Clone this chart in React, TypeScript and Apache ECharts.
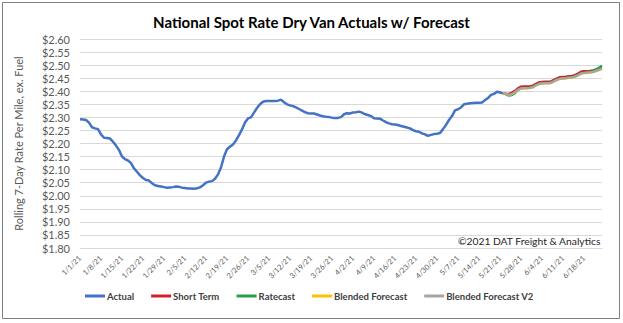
import React, { useEffect, useRef } from "react";
import * as echarts from "echarts";

const TITLE = "National Spot Rate Dry Van Actuals w/ Forecast";
const Y_NAME = "Rolling 7-Day Rate Per Mile, ex. Fuel";
const COPYRIGHT = "©2021 DAT Freight & Analytics";
const SERIES_NAMES = ["Actual", "Short Term", "Ratecast", "Blended Forecast", "Blended Forecast V2"];
const COLORS = ["#4472C4", "#D0202A", "#22A050", "#FFC000", "#A5A5A5"];

const START = new Date(2021, 0, 1);
const DAY_COUNT = 175; // 1/1/21 .. 6/24/21
const FORECAST_START = 141;

const actual = [
  2.293, 2.292, 2.29, 2.28, 2.262, 2.258, 2.255, 2.235, 2.222, 2.221,
  2.219, 2.207, 2.192, 2.175, 2.15, 2.14, 2.135, 2.125, 2.105, 2.092,
  2.078, 2.068, 2.06, 2.058, 2.048, 2.04, 2.037, 2.035, 2.033, 2.031,
  2.032, 2.033, 2.035, 2.034, 2.031, 2.03, 2.028, 2.028, 2.027,
  2.029, 2.032, 2.04, 2.05, 2.054, 2.056, 2.065, 2.082, 2.108, 2.15,
  2.178, 2.188, 2.196, 2.212, 2.232, 2.254, 2.28, 2.296, 2.3, 2.318,
  2.336, 2.35, 2.36, 2.363, 2.363, 2.363, 2.363, 2.364, 2.368,
  2.358, 2.35, 2.346, 2.343, 2.338, 2.332, 2.326, 2.32, 2.316, 2.315,
  2.315, 2.311, 2.307, 2.304, 2.302, 2.301, 2.299, 2.298, 2.298, 2.301,
  2.312, 2.316, 2.315, 2.319, 2.32, 2.322, 2.318, 2.312, 2.309, 2.305,
  2.297, 2.296, 2.295, 2.288, 2.282, 2.277, 2.274, 2.273, 2.271,
  2.267, 2.264, 2.261, 2.258, 2.251, 2.247, 2.245, 2.239, 2.235, 2.229,
  2.233, 2.236, 2.237, 2.24, 2.255, 2.271, 2.29, 2.305, 2.327, 2.331,
  2.338, 2.35, 2.352, 2.354, 2.355, 2.356, 2.356, 2.357, 2.366, 2.374,
  2.386, 2.39, 2.398, 2.395, 2.392,
];

const shortTerm = [
  2.393, 2.391, 2.39, 2.395, 2.402, 2.412, 2.418, 2.419, 2.419, 2.42,
  2.422, 2.429, 2.434, 2.436, 2.437, 2.437, 2.438, 2.444, 2.45, 2.454,
  2.455, 2.456, 2.458, 2.459, 2.462, 2.468, 2.475, 2.477, 2.477, 2.478,
  2.48, 2.483, 2.486, 2.489,
];
const ratecast = [
  2.393, 2.387, 2.383, 2.385, 2.392, 2.404, 2.411, 2.413, 2.413, 2.414,
  2.417, 2.424, 2.429, 2.431, 2.432, 2.432, 2.433, 2.439, 2.445, 2.449,
  2.45, 2.451, 2.453, 2.454, 2.457, 2.462, 2.469, 2.471, 2.472, 2.474,
  2.478, 2.484, 2.49, 2.498,
];
const blended = [
  2.393, 2.389, 2.385, 2.389, 2.395, 2.405, 2.41, 2.411, 2.411, 2.412,
  2.415, 2.422, 2.427, 2.429, 2.43, 2.43, 2.431, 2.437, 2.443, 2.447,
  2.448, 2.449, 2.451, 2.452, 2.455, 2.46, 2.467, 2.469, 2.47, 2.471,
  2.473, 2.477, 2.481, 2.485,
];
const blendedV2 = [
  2.393, 2.39, 2.386, 2.39, 2.396, 2.406, 2.411, 2.412, 2.412, 2.413,
  2.416, 2.423, 2.428, 2.43, 2.431, 2.431, 2.432, 2.438, 2.444, 2.448,
  2.449, 2.45, 2.452, 2.453, 2.456, 2.461, 2.468, 2.47, 2.471, 2.472,
  2.474, 2.478, 2.482, 2.486,
];

const Y_MIN = 1.8;
const Y_MAX = 2.6;
const Y_STEP = 0.05;

function buildDates(): string[] {
  const out: string[] = [];
  for (let i = 0; i < DAY_COUNT; i++) {
    const d = new Date(START.getFullYear(), START.getMonth(), START.getDate() + i);
    out.push(`${d.getMonth() + 1}/${d.getDate()}/21`);
  }
  return out;
}

function pad(values: number[]): (number | null)[] {
  const lead: (number | null)[] = new Array(FORECAST_START).fill(null);
  return lead.concat(values);
}

const FONT = "Lato, 'Open Sans', sans-serif";

export default function App() {
  const ref = useRef<HTMLDivElement>(null);
  useEffect(() => {
    if (!ref.current) return;
    const chart = echarts.init(ref.current, null, { renderer: "svg" });
    const dates = buildDates();
    const seriesData = [actual, pad(shortTerm), pad(ratecast), pad(blended), pad(blendedV2)];
    chart.setOption({
      animation: false,
      backgroundColor: "#ffffff",
      textStyle: { fontFamily: FONT },
      title: {
        text: TITLE,
        left: "center",
        top: 9,
        textStyle: { fontFamily: FONT, fontSize: 15, fontWeight: "bold", color: "#000000" },
      },
      grid: { left: 80, right: 21, top: 39, bottom: 75, containLabel: false },
      legend: {
        bottom: 17,
        left: 80,
        itemWidth: 20,
        itemHeight: 3,
        itemGap: 17,
        icon: "rect",
        textStyle: { fontFamily: FONT, fontSize: 9.5, fontWeight: "bold", color: "#404040", padding: [0, 0, 0, -3] },
        data: SERIES_NAMES,
      },
      xAxis: {
        type: "category",
        data: dates,
        boundaryGap: false,
        axisLine: { lineStyle: { color: "#D9D9D9" } },
        axisTick: { show: false },
        axisLabel: { interval: 6, rotate: 45, fontSize: 7.5, color: "#595959", fontFamily: FONT, margin: 9 },
      },
      yAxis: {
        type: "value",
        min: Y_MIN,
        max: Y_MAX,
        interval: Y_STEP,
        name: Y_NAME,
        nameLocation: "middle",
        nameGap: 56,
        nameTextStyle: { fontFamily: FONT, fontSize: 11, color: "#595959" },
        axisLabel: {
          fontSize: 11,
          color: "#595959",
          fontFamily: FONT,
          margin: 10,
          formatter: (v: number) => "$" + v.toFixed(2),
        },
        splitLine: { lineStyle: { color: "#D9D9D9", width: 1 } },
        axisLine: { show: false },
        axisTick: { show: false },
      },
      graphic: [
        {
          type: "rect",
          shape: { x: 2.5, y: 2.5, width: 617, height: 316 },
          style: { fill: "none", stroke: "#7F7F7F", lineWidth: 1 },
          silent: true,
        },
        {
          type: "text",
          right: 22,
          top: 236,
          style: { text: COPYRIGHT, font: `10.3px ${FONT}`, fill: "#262626" },
        },
      ],
      series: SERIES_NAMES.map((name, i) => ({
        name,
        type: "line",
        data: seriesData[i],
        showSymbol: false,
        symbol: "none",
        connectNulls: false,
        color: COLORS[i],
        lineStyle: { color: COLORS[i], width: i === 0 ? 2.5 : 2.2 },
        z: 2 + i,
      })),
    });
    return () => chart.dispose();
  }, []);
  return (
    <div
      ref={ref}
      style={{ position: "absolute", left: 0, top: 0, width: 623, height: 323 }}
    />
  );
}
